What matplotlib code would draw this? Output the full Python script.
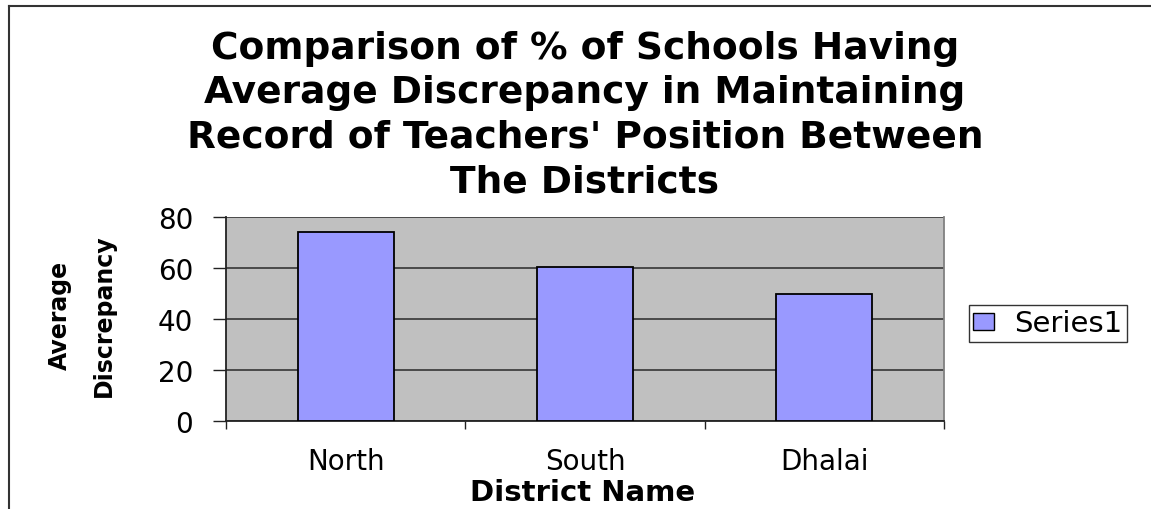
import matplotlib
matplotlib.use("Agg")
import matplotlib.pyplot as plt
from matplotlib.lines import Line2D
import numpy as np

categories = ["North", "South", "Dhalai"]
values = [74, 60.3, 50]
series_name = "Series1"
yticks = [0, 20, 40, 60, 80]
title = "Comparison of % of Schools Having\nAverage Discrepancy in Maintaining\nRecord of Teachers' Position Between\nThe Districts"
xlabel = "District Name"
ylabel_lines = ["Average", "Discrepancy"]

W, H = 1151, 510
fig = plt.figure(figsize=(W / 100, H / 100), dpi=100)
fig.patch.set_facecolor("white")

def fx(px):
    return px / W

def fy(py):
    return 1 - py / H

ax = fig.add_axes([fx(226), fy(422), (944 - 226) / W, (422 - 218) / H])
ax.set_facecolor("#C0C0C0")

x = np.arange(len(categories))
ax.bar(x, values, width=0.4, color="#9999FF", edgecolor="black", linewidth=1.3,
       label=series_name, zorder=3)

ax.set_xlim(-0.5, len(categories) - 0.5)
ax.set_ylim(0, 80)
ax.set_yticks(yticks)
ax.set_yticklabels([str(v) for v in yticks], fontsize=20, family="DejaVu Sans")
ax.yaxis.grid(True, color="#404040", linewidth=1.3, zorder=1)
ax.set_axisbelow(True)

ax.set_xticks(x)
ax.set_xticklabels(categories, fontsize=20, family="DejaVu Sans")
ax.set_xticks(np.arange(-0.5, len(categories), 1.0), minor=True)
ax.tick_params(axis="x", which="major", length=0, pad=19)
ax.tick_params(axis="x", which="minor", length=6, width=1, color="#222222")
ax.tick_params(axis="y", which="major", length=9.5, width=1, color="#222222", pad=14)

for s in ["left", "bottom"]:
    ax.spines[s].set_color("#222222")
    ax.spines[s].set_linewidth(1.3)
ax.spines["top"].set_visible(False)
ax.spines["right"].set_color("#808080")
ax.spines["right"].set_linewidth(1.3)

fig.text(fx(585), fy(31), title, ha="center", va="top", fontsize=27,
         fontweight="bold", family="DejaVu Sans", linespacing=1.30)

fig.text(fx(583), fy(493), xlabel, ha="center", va="center", fontsize=21,
         fontweight="bold", family="DejaVu Sans")

fig.text(fx(60), fy(315), ylabel_lines[0], ha="center", va="center", rotation=90,
         fontsize=17, fontweight="bold", family="DejaVu Sans")
fig.text(fx(104), fy(316), ylabel_lines[1], ha="center", va="center", rotation=90,
         fontsize=17, fontweight="bold", family="DejaVu Sans")

handles, labels = ax.get_legend_handles_labels()
leg = fig.legend(handles, labels, loc="center left",
                 bbox_to_anchor=(fx(969), fy(324.5)), bbox_transform=fig.transFigure,
                 fontsize=21, frameon=True, fancybox=False, shadow=False,
                 borderpad=0.15, handlelength=0.7, handleheight=0.52,
                 handletextpad=0.7, borderaxespad=0)
leg.get_frame().set_edgecolor("black")
leg.get_frame().set_linewidth(1.0)
for p in leg.get_patches():
    p.set_linewidth(1.0)

# outer chart-area border (top and left edges visible)
fig.add_artist(Line2D([fx(9), 1.0], [fy(7), fy(7)], color="#333333", linewidth=1.5,
                      transform=fig.transFigure))
fig.add_artist(Line2D([fx(9), fx(9)], [fy(7), 0.0], color="#333333", linewidth=1.5,
                      transform=fig.transFigure))

fig.savefig("out.png", dpi=100)
